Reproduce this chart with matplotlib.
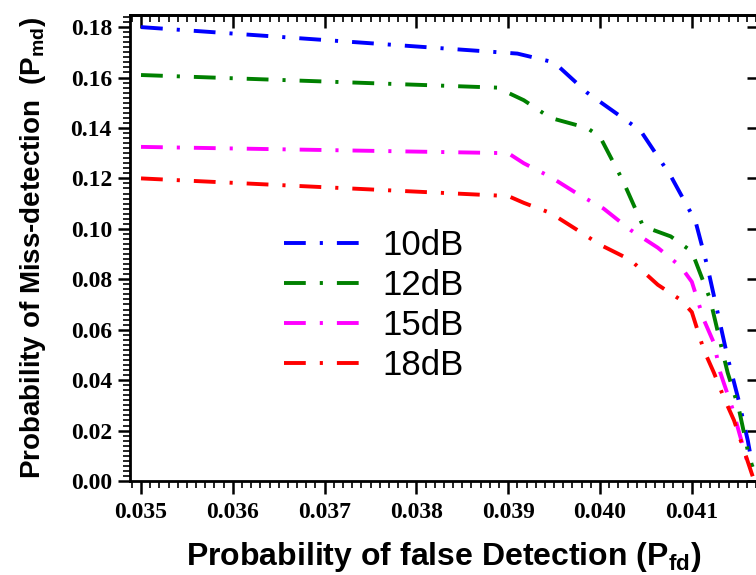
import numpy as np
import matplotlib
matplotlib.use("Agg")
import matplotlib.pyplot as plt
from matplotlib.ticker import MultipleLocator, AutoMinorLocator, FormatStrFormatter, NullFormatter

# datos
x_10 = [0.0350, 0.0391, 0.0395, 0.03986, 0.04044, 0.04077, 0.04104, 0.04117, 0.04128, 0.04139, 0.04151, 0.04161, 0.04166]
y_10 = [0.180, 0.1695, 0.166, 0.154, 0.139, 0.121, 0.103, 0.085, 0.067, 0.049, 0.032, 0.016, 0.006]

x_12 = [0.0350, 0.03888, 0.03917, 0.03946, 0.03986, 0.0400, 0.04025, 0.04047, 0.04077, 0.0410, 0.0412, 0.04131, 0.04139, 0.04151, 0.04161, 0.04166]
y_12 = [0.161, 0.156, 0.151, 0.144, 0.140, 0.1365, 0.119, 0.101, 0.097, 0.091, 0.072, 0.055, 0.043, 0.029, 0.012, 0.0056]

x_15 = [0.0350, 0.0390, 0.03917, 0.03946, 0.03975, 0.04004, 0.04033, 0.04063, 0.04088, 0.0410, 0.04113, 0.04124, 0.04131, 0.04144, 0.04161, 0.04166]
y_15 = [0.1325, 0.130, 0.126, 0.1206, 0.114, 0.108, 0.0996, 0.0925, 0.085, 0.079, 0.064, 0.0548, 0.043, 0.029, 0.007, 0.004]

x_18 = [0.0350, 0.0390, 0.03917, 0.03946, 0.03975, 0.0400, 0.04033, 0.04063, 0.04088, 0.0410, 0.04113, 0.04124, 0.04135, 0.04146, 0.04157, 0.04168]
y_18 = [0.120, 0.113, 0.1103, 0.1063, 0.0996, 0.0937, 0.0877, 0.0778, 0.0718, 0.067, 0.052, 0.043, 0.033, 0.024, 0.012, 0.0]

labels = ["10dB", "12dB", "15dB", "18dB"]
colores = ["blue", "green", "magenta", "red"]

plt.rcParams['mathtext.fontset'] = 'custom'
plt.rcParams['mathtext.rm'] = 'Liberation Sans'
plt.rcParams['mathtext.bf'] = 'Liberation Sans:bold'

fig = plt.figure(figsize=(7.56, 5.75), dpi=100)
ax = fig.add_axes([130/756, 1 - 481/575, 627/756, 466/575])

series = [(x_10, y_10), (x_12, y_12), (x_15, y_15), (x_18, y_18)]
for (xs, ys), lab, c in zip(series, labels, colores):
    ax.plot(xs, ys, color=c, lw=2.8, dashes=(5.6, 3.6, 0.8, 3.6), label=lab)

ax.set_xlim(0.03488, 0.04171)
ax.set_ylim(0.0, 0.1848)

ax.xaxis.set_major_locator(MultipleLocator(0.001))
ax.xaxis.set_minor_locator(AutoMinorLocator(10))
ax.yaxis.set_major_locator(MultipleLocator(0.02))
ax.yaxis.set_minor_locator(AutoMinorLocator(10))
ax.xaxis.set_major_formatter(FormatStrFormatter('%.3f'))
ax.yaxis.set_major_formatter(FormatStrFormatter('%.2f'))

ax.tick_params(which='major', direction='out', length=9, width=1.8, labelsize=17)
ax.tick_params(which='minor', direction='out', length=5, width=1.2)
ax.tick_params(axis='x', pad=6)
ax.tick_params(axis='y', pad=4)

# ticks hacia dentro arriba y a la derecha
top = ax.secondary_xaxis('top')
top.xaxis.set_major_locator(MultipleLocator(0.001))
top.xaxis.set_minor_locator(AutoMinorLocator(10))
top.xaxis.set_major_formatter(NullFormatter())
top.tick_params(which='major', direction='in', length=9, width=1.8)
top.tick_params(which='minor', direction='in', length=5, width=1.2)
top.spines['top'].set_linewidth(2.0)

der = ax.secondary_yaxis('right')
der.yaxis.set_major_locator(MultipleLocator(0.02))
der.yaxis.set_minor_locator(plt.NullLocator())
der.yaxis.set_major_formatter(NullFormatter())
der.tick_params(which='major', direction='in', length=7, width=1.8)

for lbl in ax.get_xticklabels() + ax.get_yticklabels():
    lbl.set_fontfamily('Liberation Serif')
    lbl.set_fontweight('bold')

for s in ax.spines.values():
    s.set_linewidth(2.0)

ax.set_xlabel(r'Probability of false Detection ($\mathbf{P_{fd}}$)',
              fontfamily='Liberation Sans', fontweight='bold', fontsize=23, labelpad=12)
ax.set_ylabel(r'Probability of Miss-detection  ($\mathbf{P_{md}}$)',
              fontfamily='Liberation Sans', fontweight='bold', fontsize=20, labelpad=16)

leg = ax.legend(loc='upper left', bbox_to_anchor=(260/756, 1 - 205/575),
                bbox_transform=fig.transFigure, frameon=False,
                prop={'family': 'Liberation Sans', 'size': 25},
                handlelength=2.16, handletextpad=0.66, labelspacing=0.2,
                borderpad=0.2)

plt.savefig("out.png", dpi=100)
